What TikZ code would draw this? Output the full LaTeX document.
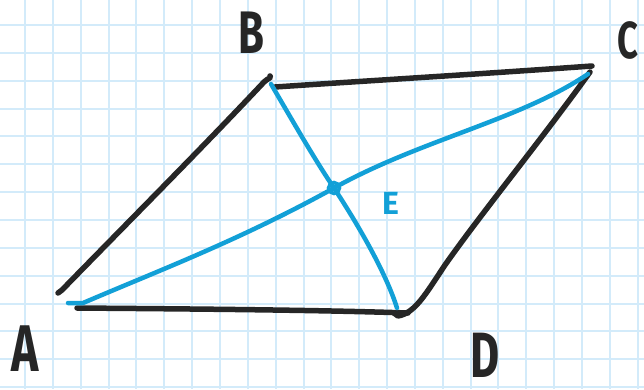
\documentclass[tikz,border=0pt]{standalone}
\usepackage{fontspec}
\setmainfont{Fira Sans}
\begin{document}
\begin{tikzpicture}[x=1pt,y=-1pt,
  gridline/.style={draw=gridblue,line width=2pt},
  ink/.style={draw=inkblack,line width=5.5pt,line cap=round,line join=round},
  bink/.style={draw=inkblue,line width=4.5pt,line cap=round,line join=round},
  lab/.style={text=inkblack,inner sep=0pt,xscale=0.7},
  blab/.style={text=inkblue,inner sep=0pt,font=\fontsize{32}{32}\selectfont\bfseries}]
\definecolor{gridblue}{HTML}{D3EBFA}
\definecolor{inkblack}{HTML}{262626}
\definecolor{inkblue}{HTML}{12A0D7}
\fill[white] (0,0) rectangle (644,389);
\useasboundingbox (0,0) rectangle (644,389);
% grid
\foreach \k in {0,...,22} {\draw[gridline] ({25+27.85*\k},0) -- ({25+27.85*\k},389);}
\foreach \k in {0,...,13} {\draw[gridline] (0,{25+27.85*\k}) -- (644,{25+27.85*\k});}
% corner coordinates
\coordinate (Atop) at (58,293);
\coordinate (Btop) at (270,76);
\coordinate (Bs) at (275,87);
\coordinate (Cs) at (592,66);
\coordinate (Cr) at (590,72);
\coordinate (Dh) at (398,316);
\coordinate (Ab) at (77,308);
\coordinate (Db) at (408,313);
\coordinate (Ab2) at (68,303);
\coordinate (Bb) at (271,84);
\coordinate (Db2) at (397,308);
\coordinate (Cb) at (588,74);
% black sides
\draw[ink] (Atop) -- (62,290) .. controls (140,210) and (200,150) .. (264,82) .. controls (268,78) and (272,78) .. (Btop);
\draw[ink] (Bs) .. controls (380,80) and (480,74) .. (Cs);
\draw[ink] (Ab) .. controls (200,309) and (320,310) .. (Db);
\draw[ink] (Cr) .. controls (545,135) and (480,215) .. (445,265) .. controls (425,295) and (415,313) .. (Dh) -- (394,313);
% intersection point
\node[circle,draw=inkblue,line width=3.5pt,minimum size=11pt,inner sep=0pt] (E0) at (334,188) {};
% blue diagonals
\draw[bink] (Bb) .. controls (295,125) and (315,160) .. (E0.center)
  .. controls (355,220) and (385,270) .. (Db2);
\draw[bink] (Ab2) -- (83,303) .. controls (160,270) and (240,240) .. (E0.center)
  .. controls (420,140) and (520,120) .. (Cb);
% labels
\node[lab,font=\fontsize{66}{66}\selectfont\bfseries] (A) at (25,349) {A};
\node[lab,font=\fontsize{60}{60}\selectfont\bfseries] (B) at (251,33) {B};
\node[lab,font=\fontsize{52}{52}\selectfont\bfseries] (C) at (628,40) {C};
\node[lab,font=\fontsize{64}{64}\selectfont\bfseries] (D) at (485,355) {D};
\node[blab] (E) at (391,203) {E};
\end{tikzpicture}
\end{document}
